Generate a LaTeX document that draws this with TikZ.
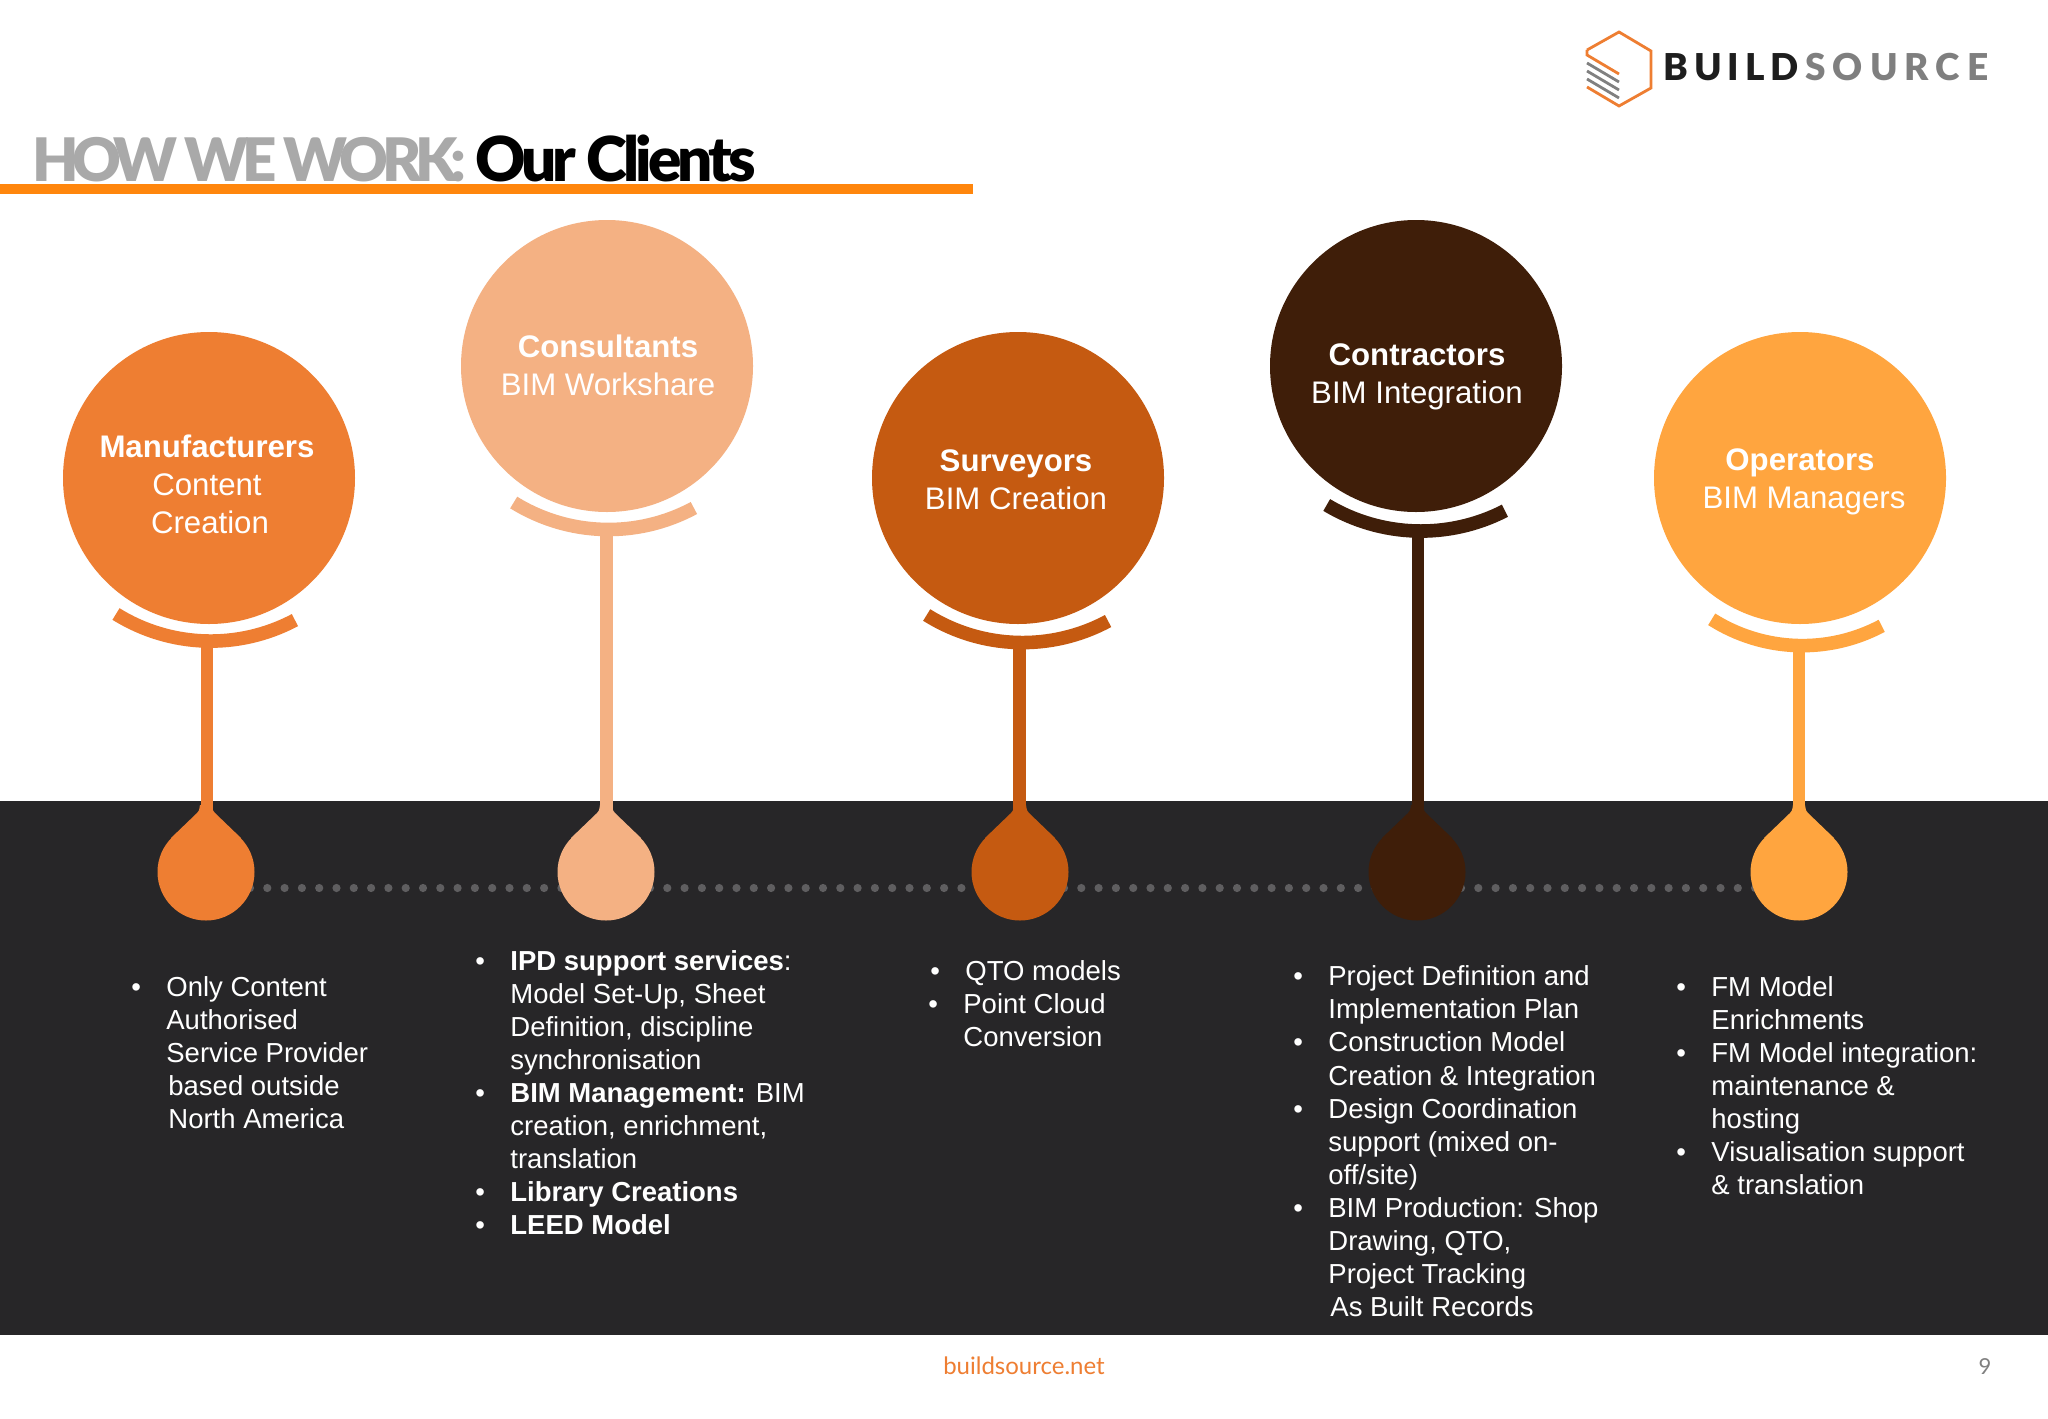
\documentclass[tikz,border=0pt]{standalone}
\usepackage{fontspec}
\setmainfont{Liberation Sans}
\newfontfamily\titlefont[LetterSpace=-11]{Lato Black}
\newfontfamily\subtitlefont[LetterSpace=-6.5]{Lato Black}
\newfontfamily\logofont[LetterSpace=16]{Lato Black}
\newfontfamily\logofontb[LetterSpace=19]{Lato Black}
\newfontfamily\sitefont{Lato}
\usetikzlibrary{backgrounds, positioning}
\definecolor{manufcol}{HTML}{EE7E32}
\definecolor{conscol}{HTML}{F4B183}
\definecolor{survcol}{HTML}{C55A11}
\definecolor{contrcol}{HTML}{3F1E09}
\definecolor{opercol}{HTML}{FFA53F}
\definecolor{bandcol}{HTML}{272628}
\definecolor{rulecol}{HTML}{FF860D}
\definecolor{dotcol}{HTML}{5F5E60}
\tikzset{
  client/.style={circle, fill=#1, minimum size=146pt, inner sep=0pt},
  drop/.style={circle, fill=#1, minimum size=48.5pt, inner sep=0pt},
  clienttext/.style={text=white, align=center, font=\fontsize{15.6pt}{19pt}\selectfont},
  bullets/.style={text=white, align=left, anchor=north west, inner sep=0pt,
    font=\fontsize{13.75pt}{16.53pt}\selectfont},
  stem/.style={line width=6.3pt},
  smile/.style={line width=6.8pt},
  dots/.style={dotcol, line width=4.1pt, line cap=round, dash pattern=on 0pt off 8.65pt, dash phase=3.95pt}
}
\newcommand{\itm}{\leavevmode\llap{\textbullet\hspace{12.7pt}}}
\newcommand{\neck}[2]{\begin{scope}[shift={(#1,838)}]
  \fill[#2] (-35,0) -- (-9,-25) .. controls (-7,-27) .. (-6,-33) -- (6,-33) .. controls (7,-27) .. (9,-25) -- (35,0) -- cycle;
\end{scope}}
\begin{document}
\begin{tikzpicture}[x=.5pt, y=-.5pt]
\useasboundingbox (0,0) rectangle (2048,1418);
% title and logo
\node[anchor=base west, inner sep=0pt, font=\fontsize{30pt}{30pt}\titlefont, text={rgb,255:red,169;green,169;blue,169}] (title) at (32,181) {HOW WE WORK:};
\node[anchor=base west, inner sep=0pt, font=\fontsize{31pt}{31pt}\subtitlefont, text=black] (subtitle) at (475,181) {Our Clients};
\fill[rulecol] (0,184) rectangle (973,194);
\draw[manufcol, line width=1.4pt] (1587,50) -- (1619,32) -- (1651,51) -- (1651,88) -- (1619,106) -- (1587,87);
\draw[manufcol, line width=1.4pt] (1587,50) -- (1587,55) -- (1619,74);
\draw[gray, line width=1.4pt] (1587,63) -- (1619,82);
\draw[gray, line width=1.4pt] (1587,71) -- (1619,90);
\draw[gray, line width=1.4pt] (1587,79) -- (1619,98);
\node[anchor=base west, inner sep=0pt, font=\fontsize{18.5pt}{18.5pt}\logofont, text={rgb,255:red,30;green,30;blue,30}] (logoa) at (1663,81) {BUILD};
\node[anchor=base west, inner sep=0pt, font=\fontsize{18.5pt}{18.5pt}\logofontb, text={rgb,255:red,127;green,127;blue,127}] (logob) at (1805,81) {SOURCE};
%
% the five clients
\node[client=manufcol] (manuf) at (209,478) {};
\node[clienttext] (manuftext) at (207,484) {\textbf{Manufacturers}\\Content\\\hspace{3pt}Creation};
\draw[smile, manufcol] (116,614) arc[start angle=121.9, end angle=62, radius=179.3];
\coordinate (manufbase) at (207,645);
\node[drop=manufcol] (manufdrop) at (206,872) {};
\neck{206}{manufcol}
\draw[stem, manufcol] (manufbase) -- (manufbase |- manufdrop);
%
\node[client=conscol] (cons) at (607,366) {};
\node[clienttext] (constext) at (608,365) {\textbf{Consultants}\\BIM Workshare};
\draw[smile, conscol] (513.7,502.5) arc[start angle=121.8, end angle=61.7, radius=180];
\coordinate (consbase) at (606.5,533);
\node[drop=conscol] (consdrop) at (606,872) {};
\neck{606}{conscol}
\draw[stem, conscol] (consbase) -- (consbase |- consdrop);
%
\node[client=survcol] (surv) at (1018,478) {};
\node[clienttext] (survtext) at (1016,480) {\textbf{Surveyors}\\BIM Creation};
\draw[smile, survcol] (926.7,615) arc[start angle=122.1, end angle=61.7, radius=180.4];
\coordinate (survbase) at (1019.3,647);
\node[drop=survcol] (survdrop) at (1020,872) {};
\neck{1020}{survcol}
\draw[stem, survcol] (survbase) -- (survbase |- survdrop);
%
\node[client=contrcol] (contr) at (1416,366) {};
\node[clienttext] (contrtext) at (1417,377) {\textbf{Contractors}\\BIM Integration};
\draw[smile, contrcol] (1326.7,505) arc[start angle=120.9, end angle=62.8, radius=183.6];
\coordinate (contrbase) at (1417.8,535);
\node[drop=contrcol] (contrdrop) at (1417,872) {};
\neck{1417}{contrcol}
\draw[stem, contrcol] (contrbase) -- (contrbase |- contrdrop);
%
\node[client=opercol] (oper) at (1800,478) {};
\node[clienttext] (opertext) at (1800,482) {\textbf{Operators}\\\hspace{4pt}BIM Managers};
\draw[smile, opercol] (1711.7,619.3) arc[start angle=122.4, end angle=62, radius=169.1];
\coordinate (operbase) at (1798.8,649);
\node[drop=opercol] (operdrop) at (1799,872) {};
\neck{1799}{opercol}
\draw[stem, opercol] (operbase) -- (operbase |- operdrop);
%
% band and dots behind
\begin{scope}[on background layer]
\fill[white] (0,0) rectangle (2048,1418);
\fill[bandcol] (0,801) rectangle (2048,1335);
\draw[dots] ([yshift=-8pt]manufdrop.center) -- ([yshift=-8pt]consdrop.center);
\draw[dots] ([yshift=-8pt]consdrop.center) -- ([yshift=-8pt]survdrop.center);
\draw[dots] ([yshift=-8pt]survdrop.center) -- ([yshift=-8pt]contrdrop.center);
\draw[dots] ([yshift=-8pt]contrdrop.center) -- ([yshift=-8pt]operdrop.center);
\end{scope}
%
% the lists
\node[bullets] (manuflist) at (166,976) {\itm Only Content\\Authorised\\Service Provider\\\hspace{1pt}based outside\\\hspace{1pt}North America};
\node[bullets] (conslist) at (510,950) {\itm\textbf{IPD support services}:\\Model Set-Up, Sheet\\Definition, discipline\\synchronisation\\\itm\textbf{BIM Management:} BIM\\creation, enrichment,\\translation\\\itm\textbf{Library Creations}\\\itm\textbf{LEED Model}};
\node[bullets] (survlist) at (965,960) {\itm QTO models\\\hspace{-1pt}\itm Point Cloud\\\hspace{-1pt}Conversion};
\node[bullets] (contrlist) at (1328,965.5) {\itm Project Definition and\\Implementation Plan\\\itm Construction Model\\Creation \& Integration\\\itm Design Coordination\\support (mixed on-\\off/site)\\\itm BIM Production: Shop\\Drawing, QTO,\\Project Tracking\\\hspace{1pt}As Built Records};
\node[bullets] (operlist) at (1711,976) {\itm FM Model\\Enrichments\\\itm FM Model integration:\\maintenance \&\\hosting\\\itm Visualisation support\\\& translation};
%
% footer
\node[text=manufcol, font=\fontsize{12pt}{12pt}\sitefont] (site) at (1024,1366) {buildsource.net};
\node[text=gray, font=\fontsize{11pt}{11pt}\sitefont] (page) at (1985,1367) {9};
\end{tikzpicture}
\end{document}
